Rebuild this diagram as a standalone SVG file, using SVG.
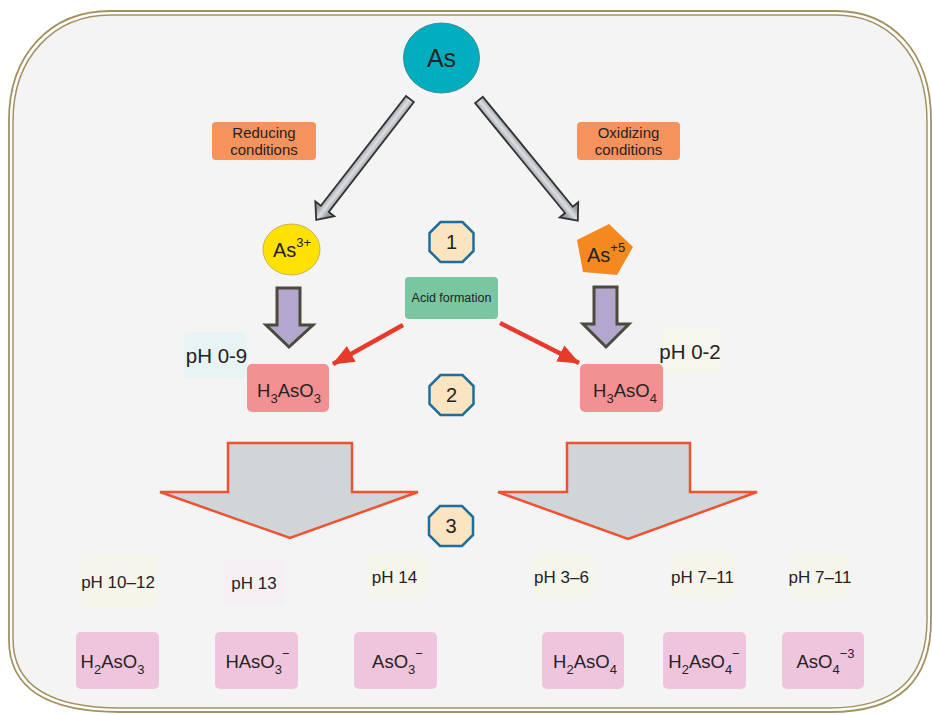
<svg xmlns="http://www.w3.org/2000/svg" width="932" height="715" viewBox="0 0 932 715">
<defs>
<style>
text{font-family:"Liberation Sans",Arial,sans-serif;fill:#262223;}
.lbl{font-size:15px;text-anchor:middle;}
.ph{font-size:17px;text-anchor:middle;}
.big{font-size:20.5px;text-anchor:middle;}
.f{font-size:18.5px;text-anchor:middle;}
.num{font-size:20px;text-anchor:middle;}
.pink{fill:#efc5de;}
.cream{fill:#f5f5ec;}
.red{fill:#f29191;}
.octo{fill:#fae5c0;stroke:#1f6d9d;stroke-width:2.5;}
.garrow{fill:url(#gg);stroke:#303235;stroke-width:1.8;stroke-linejoin:miter;}
.parrow{fill:#b2a7cd;stroke:#4b4a3c;stroke-width:3;stroke-linejoin:miter;}
.barrow{fill:#d0d5d8;stroke:#ef5230;stroke-width:2.5;stroke-linejoin:miter;}
.rline{stroke:#e63b2b;stroke-width:4.5;fill:none;}
</style>
<linearGradient id="gg" gradientUnits="userSpaceOnUse" x1="0" y1="-6" x2="0" y2="6">
<stop offset="0" stop-color="#9a9ea2"/>
<stop offset="0.5" stop-color="#dcdfe1"/>
<stop offset="1" stop-color="#9a9ea2"/>
</linearGradient>
<polygon id="oct" points="-11,-20 11,-20 22,-9 22,9 11,20 -11,20 -22,9 -22,-9"/>
<marker id="rh" markerUnits="userSpaceOnUse" markerWidth="22" markerHeight="20" viewBox="0 0 22 20" refX="21" refY="10" orient="auto">
<path d="M0,1 L22,10 L0,19 Z" fill="#e63b2b"/>
</marker>
</defs>

<g id="frame">
<path d="M110,11 H836 C890,11 931,50 931,120 V620 C931,680 900,712 830,712 H120 C50,712 9,690 9,640 V120 C9,55 50,11 110,11 Z" fill="#ffffff" stroke="#a3915f" stroke-width="1.8"/>
<path d="M111,15 H835 C887,15 927,53 927,121 V619 C927,677 897,708 829,708 H121 C53,708 13,687 13,639 V121 C13,58 53,15 111,15 Z" fill="#f4f4f5" stroke="#a3915f" stroke-width="1.5"/>
</g>

<g id="connectors">
<polygon class="garrow" transform="translate(410,99) rotate(127.8)" points="0,-5 139,-5 139,-12 153,0 139,12 139,5 0,5"/>
<polygon class="garrow" transform="translate(479,100) rotate(50.7)" points="0,-5 142,-5 142,-12 156,0 142,12 142,5 0,5"/>
<polygon class="parrow" points="277,288 300,288 300,325 313,325 289,347 266,325 277,325"/>
<polygon class="parrow" points="594,287 617,287 617,324 629,324 606,347 583,324 594,324"/>
<line class="rline" x1="403" y1="325" x2="333" y2="364" marker-end="url(#rh)"/>
<line class="rline" x1="500" y1="323" x2="579" y2="363" marker-end="url(#rh)"/>
<polygon class="barrow" points="228,443 352,443 352,492 418,492 290,538 160,492 228,492"/>
<polygon class="barrow" points="567,443 690,443 690,492 757,492 628,539 498,492 567,492"/>
</g>

<g id="as">
<ellipse cx="441.5" cy="58" rx="38" ry="35" fill="#00aebf" stroke="#3a8c98" stroke-width="1"/>
<text x="441.5" y="67" font-size="25" text-anchor="middle">As</text>
</g>

<g id="reducing">
<rect x="212" y="122" width="104" height="38" rx="4" fill="#f6925b"/>
<text class="lbl" x="264" y="138">Reducing</text>
<text class="lbl" x="264" y="155">conditions</text>
</g>

<g id="oxidizing">
<rect x="577" y="122" width="103" height="38" rx="4" fill="#f6925b"/>
<text class="lbl" x="628.5" y="138">Oxidizing</text>
<text class="lbl" x="628.5" y="155">conditions</text>
</g>

<g id="as3">
<ellipse cx="291.5" cy="249.5" rx="28.5" ry="25.5" fill="#fde100" stroke="#b8a35a" stroke-width="0.8"/>
<text x="273" y="257" font-size="20">As<tspan font-size="13" dy="-10">3+</tspan></text>
</g>

<g id="as5">
<polygon points="609,224 633,247 617,275 583,272 577,240" fill="#f3891f"/>
<text x="587" y="262" font-size="20">As<tspan font-size="13" dy="-10">+5</tspan></text>
</g>

<g id="n1"><use href="#oct" class="octo" transform="translate(451.5,242)"/><text class="num" x="451.5" y="249">1</text></g>
<g id="n2"><use href="#oct" class="octo" transform="translate(451.5,395)"/><text class="num" x="451.5" y="402">2</text></g>
<g id="n3"><use href="#oct" class="octo" transform="translate(451,526)"/><text class="num" x="451" y="533">3</text></g>

<g id="acid">
<rect x="405" y="277" width="93" height="42" rx="4" fill="#79c6a1"/>
<text x="451.5" y="302" font-size="12.5" text-anchor="middle">Acid formation</text>
</g>

<g id="ph09">
<rect x="184" y="332" width="63" height="46" rx="5" fill="#e8f3f3"/>
<text class="big" x="216.5" y="363">pH 0-9</text>
</g>
<g id="ph02">
<rect x="659" y="328" width="62" height="45" rx="5" fill="#f6f6ec"/>
<text class="big" x="690" y="359">pH 0-2</text>
</g>

<g id="h3aso3">
<rect class="red" x="247" y="364" width="82" height="48" rx="5"/>
<text class="f" x="289" y="397">H<tspan font-size="13" dy="6">3</tspan><tspan dy="-6">AsO</tspan><tspan font-size="13" dy="6">3</tspan></text>
</g>
<g id="h3aso4">
<rect class="red" x="580" y="364" width="83" height="48" rx="5"/>
<text class="f" x="625" y="397">H<tspan font-size="13" dy="6">3</tspan><tspan dy="-6">AsO</tspan><tspan font-size="13" dy="6">4</tspan></text>
</g>

<g id="ph1012"><rect class="cream" x="81" y="554" width="76" height="53" rx="5"/><text class="ph" x="118" y="588">pH 10–12</text></g>
<g id="ph13"><rect x="224" y="559" width="61" height="46" rx="5" fill="#f4f0f4"/><text class="ph" x="254" y="589">pH 13</text></g>
<g id="ph14"><rect class="cream" x="366" y="553" width="62" height="46" rx="5"/><text class="ph" x="394.5" y="583">pH 14</text></g>
<g id="ph36"><rect class="cream" x="532" y="553" width="61" height="46" rx="5"/><text class="ph" x="561.5" y="583">pH 3–6</text></g>
<g id="ph711a"><rect class="cream" x="672" y="553" width="62" height="46" rx="5"/><text class="ph" x="702.5" y="583">pH 7–11</text></g>
<g id="ph711b"><rect class="cream" x="788" y="553" width="62" height="46" rx="5"/><text class="ph" x="820" y="583">pH 7–11</text></g>

<g id="h2aso3">
<rect class="pink" x="76" y="632" width="83" height="57" rx="5"/>
<text class="f" x="112.5" y="668">H<tspan font-size="13" dy="6">2</tspan><tspan dy="-6">AsO</tspan><tspan font-size="13" dy="6">3</tspan></text>
</g>
<g id="haso3">
<rect class="pink" x="215" y="632" width="83" height="57" rx="5"/>
<text class="f" x="257.5" y="668">HAsO<tspan font-size="13" dy="6">3</tspan><tspan font-size="13" dy="-16">−</tspan></text>
</g>
<g id="aso3">
<rect class="pink" x="354" y="632" width="83" height="57" rx="5"/>
<text class="f" x="397.5" y="668">AsO<tspan font-size="13" dy="6">3</tspan><tspan font-size="13" dy="-16">−</tspan></text>
</g>
<g id="h2aso4">
<rect class="pink" x="542" y="632" width="82" height="57" rx="5"/>
<text class="f" x="585" y="668">H<tspan font-size="13" dy="6">2</tspan><tspan dy="-6">AsO</tspan><tspan font-size="13" dy="6">4</tspan></text>
</g>
<g id="h2aso4m">
<rect class="pink" x="663" y="632" width="83" height="57" rx="5"/>
<text class="f" x="704" y="668">H<tspan font-size="13" dy="6">2</tspan><tspan dy="-6">AsO</tspan><tspan font-size="13" dy="6">4</tspan><tspan font-size="13" dy="-16">−</tspan></text>
</g>
<g id="aso4">
<rect class="pink" x="782" y="632" width="82" height="57" rx="5"/>
<text class="f" x="825.5" y="668">AsO<tspan font-size="13" dy="6">4</tspan><tspan font-size="13" dy="-16">−3</tspan></text>
</g>
</svg>
